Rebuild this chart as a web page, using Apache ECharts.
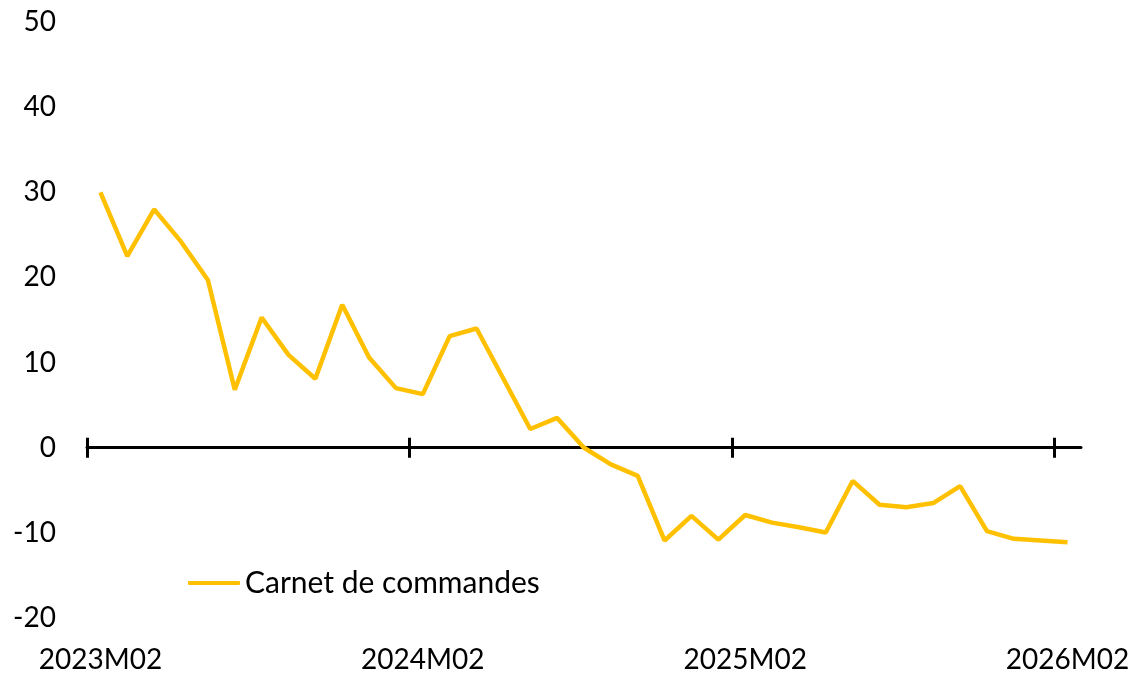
<!DOCTYPE html>
<html>
<head>
<meta charset="utf-8">
<script src="https://cdn.jsdelivr.net/npm/echarts@6/dist/echarts.min.js"></script>
<style>
  html, body { margin: 0; padding: 0; background: #fff; }
  #chart { width: 1133px; height: 675px; }
</style>
</head>
<body>
<div id="chart"></div>
<script>
// mois (2023M02 -> 2026M02)
var months = [
    '2023M02','2023M03','2023M04','2023M05','2023M06','2023M07','2023M08','2023M09','2023M10','2023M11','2023M12',
    '2024M01','2024M02','2024M03','2024M04','2024M05','2024M06','2024M07','2024M08','2024M09','2024M10','2024M11','2024M12',
    '2025M01','2025M02','2025M03','2025M04','2025M05','2025M06','2025M07','2025M08','2025M09','2025M10','2025M11','2025M12',
    '2026M01','2026M02'
];
// bornes des mois (pour les graduations de l'axe)
var monthEdges = months.concat(['2026M03']);

var carnet = [
    30.0, 22.5, 28.0, 24.2, 19.7, 6.8, 15.3, 10.9, 8.1, 16.8, 10.6,
    7.0, 6.3, 13.1, 14.0, 8.1, 2.2, 3.5, 0.0, -1.95, -3.3, -10.9, -8.0,
    -10.8, -7.9, -8.8, -9.35, -9.95, -3.9, -6.7, -7.0, -6.5, -4.5, -9.8, -10.7,
    -10.9, -11.1
];

var yTicks = { min: -20, max: 50, interval: 10 };

var font = 'Lato';
var fontSize = 28;
var grid = { left: 87, right: 52, top: 22, bottom: 57 };
var chartHeight = 675;
// position du zéro depuis le bas de la grille, pour le 2e jeu de graduations
var zeroOffset = (chartHeight - grid.top - grid.bottom) * (0 - yTicks.min) / (yTicks.max - yTicks.min);

var myChart = echarts.init(document.getElementById('chart'));

var option = {
    animation: false,
    textStyle: { fontFamily: font },
    grid: grid,
    legend: {
        left: 188,
        top: 568,
        padding: 0,
        icon: 'roundRect',
        itemWidth: 52,
        itemHeight: 4,
        itemGap: 0,
        textStyle: { fontFamily: font, fontSize: 30, color: '#000' },
        data: ['Carnet de commandes']
    },
    xAxis: [
        {
            type: 'category',
            data: monthEdges,
            boundaryGap: false,
            position: 'bottom',
            axisLine: { show: true, onZero: true, lineStyle: { color: '#000', width: 3 } },
            axisTick: { show: true, interval: 11, length: 10, lineStyle: { color: '#000', width: 3 } },
            axisLabel: { show: false }
        },
        {
            type: 'category',
            data: monthEdges,
            boundaryGap: false,
            position: 'bottom',
            offset: -zeroOffset,
            axisLine: { show: false, onZero: false },
            axisTick: { show: true, inside: true, interval: 11, length: 10, lineStyle: { color: '#000', width: 3 } },
            axisLabel: { show: false }
        },
        {
            type: 'category',
            data: months,
            boundaryGap: true,
            position: 'bottom',
            axisLine: { show: false, onZero: false },
            axisTick: { show: false },
            axisLabel: {
                interval: 11,
                margin: 28,
                fontFamily: font,
                fontSize: fontSize,
                color: '#000'
            }
        }
    ],
    yAxis: {
        type: 'value',
        min: yTicks.min,
        max: yTicks.max,
        interval: yTicks.interval,
        axisLine: { show: false },
        axisTick: { show: false },
        splitLine: { show: false },
        axisLabel: { margin: 31, fontFamily: font, fontSize: fontSize, color: '#000' }
    },
    series: [
        {
            name: 'Carnet de commandes',
            type: 'line',
            xAxisIndex: 2,
            data: carnet,
            showSymbol: false,
            symbol: 'none',
            lineStyle: { color: '#FFC000', width: 4.5 },
            itemStyle: { color: '#FFC000' }
        }
    ]
};

myChart.setOption(option);
</script>
</body>
</html>
